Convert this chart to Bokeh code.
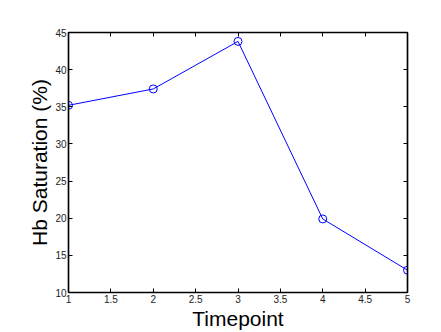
from bokeh.plotting import figure
from bokeh.models import LinearAxis, FixedTicker, Range1d, BoxAnnotation
from bokeh.embed import file_html
from bokeh.resources import INLINE

timepoints = [1, 2, 3, 4, 5]
hb_saturation = [35.2, 37.4, 43.8, 19.9, 13.0]
x_ticks = [1, 1.5, 2, 2.5, 3, 3.5, 4, 4.5, 5]
y_ticks = [10, 15, 20, 25, 30, 35, 40, 45]

p = figure(width=441, height=332, output_backend="svg", toolbar_location=None,
           x_range=Range1d(1, 5), y_range=Range1d(10, 45),
           min_border_left=68, min_border_right=34, min_border_top=32, min_border_bottom=40,
           x_axis_label="Timepoint", y_axis_label="Hb Saturation (%)")
p.grid.visible = False
p.outline_line_color = "black"
p.outline_line_width = 1.2
p.background_fill_color = "white"
p.border_fill_color = "white"

FONT = "Liberation Sans"

def style(ax, labels=True):
    ax.major_tick_in = 4
    ax.major_tick_out = 0
    ax.minor_tick_line_color = None
    ax.axis_line_color = "black"
    ax.axis_line_width = 1.5
    ax.major_tick_line_color = "black"
    ax.major_tick_line_width = 1
    ax.major_label_text_font = FONT
    ax.major_label_text_font_size = "10px"
    ax.major_label_text_color = "#222222"
    ax.major_label_standoff = 2
    ax.axis_label_text_font = FONT
    ax.axis_label_text_font_size = "21px"
    ax.axis_label_text_font_style = "normal"
    ax.axis_label_text_color = "black"
    ax.axis_label_standoff = 1
    if not labels:
        ax.major_label_text_alpha = 0
        ax.major_label_text_font_size = "1px"
        ax.major_label_standoff = 0

p.xaxis.ticker = FixedTicker(ticks=x_ticks)
p.yaxis.ticker = FixedTicker(ticks=y_ticks)
p.xaxis.major_label_overrides = {1: "1", 2: "2", 3: "3", 4: "4", 5: "5"}
for ax in p.xaxis + p.yaxis:
    style(ax)

top = LinearAxis(ticker=FixedTicker(ticks=x_ticks))
style(top, labels=False)
p.add_layout(top, "above")
right = LinearAxis(ticker=FixedTicker(ticks=y_ticks))
style(right, labels=False)
p.add_layout(right, "right")

# soft grey shadow along the top and left edges of the card
left_shades = ["#d8d8d8", "#d2d2d2", "#cccccc", "#c6c6c6", "#c0c0c0", "#bbbbbb",
               "#b6b6b6", "#b2b2b2", "#aeaeae", "#b4b4b4", "#c8c8c8"]
for i, c in enumerate(left_shades):
    p.add_layout(BoxAnnotation(left=i, right=i + 1, top=0, bottom=332,
                               left_units="canvas", right_units="canvas",
                               top_units="canvas", bottom_units="canvas",
                               fill_color=c, fill_alpha=1, line_color=None, level="underlay"))
top_shades = ["#b8b8b8", "#bebebe", "#c6c6c6", "#cecece", "#d8d8d8", "#e2e2e2", "#eeeeee"]
for i, c in enumerate(top_shades):
    p.add_layout(BoxAnnotation(left=len(left_shades), right=441, top=i, bottom=i + 1,
                               left_units="canvas", right_units="canvas",
                               top_units="canvas", bottom_units="canvas",
                               fill_color=c, fill_alpha=1, line_color=None, level="underlay"))

p.line(timepoints, hb_saturation, line_color="#0000ff", line_width=1)
p.scatter(timepoints, hb_saturation, marker="circle", size=8,
          fill_color=None, line_color="#0000ff", line_width=1)

open("out.html", "w").write(file_html(p, INLINE))
